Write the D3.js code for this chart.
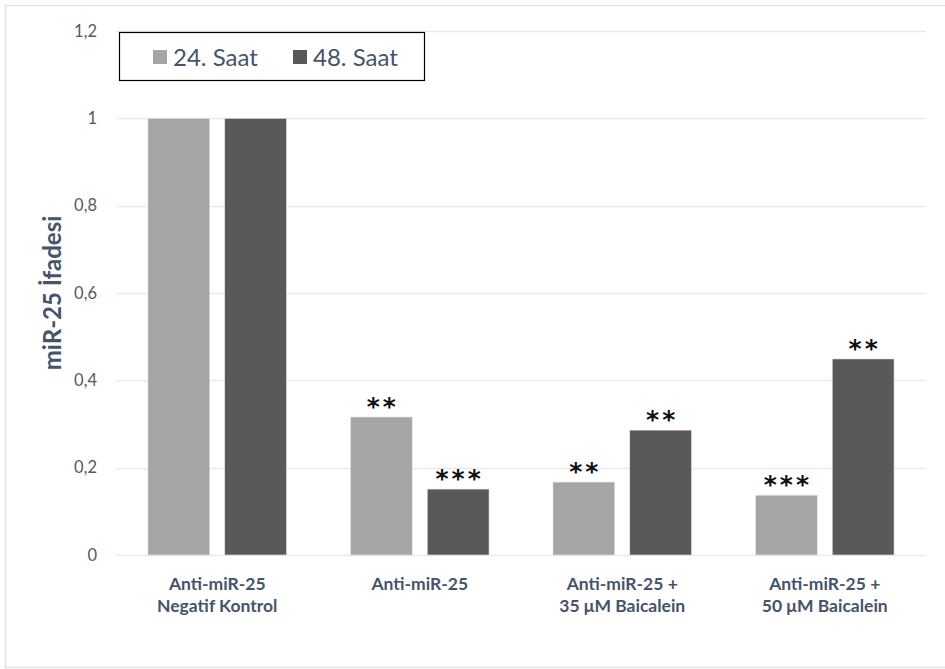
<!DOCTYPE html>
<html>
<head>
<meta charset="utf-8">
<script src="https://cdn.jsdelivr.net/npm/d3@7"></script>
<style>
  html, body { margin: 0; padding: 0; background: #fff; }
  svg { display: block; }
</style>
</head>
<body>
<svg id="chart" width="945" height="669"></svg>
<script>
// Groups on the x axis (each label split into lines)
const categories = [
  ["Anti-miR-25", "Negatif Kontrol"],
  ["Anti-miR-25"],
  ["Anti-miR-25 +", "35 μM Baicalein"],
  ["Anti-miR-25 +", "50 μM Baicalein"]
];
const seriesNames = ["24. Saat", "48. Saat"];
const values24 = [1.0, 0.316, 0.167, 0.137];
const values48 = [1.0, 0.151, 0.286, 0.449];
const stars24 = ["", "**", "**", "***"];
const stars48 = ["", "***", "**", "**"];
const yTicks = [0, 0.2, 0.4, 0.6, 0.8, 1, 1.2];
const yTitle = "miR-25 İfadesi";

const colors = ["#a5a5a5", "#595959"];
const textColor = "#44546a";
const font = "Lato, 'Open Sans', sans-serif";

const svg = d3.select("#chart");

// Outer frame
svg.append("rect")
  .attr("x", 5.5).attr("y", 5.5).attr("width", 945).attr("height", 662)
  .attr("fill", "none").attr("stroke", "#dfe3ec").attr("stroke-width", 1.5);

const plot = { left: 116, right: 926, top: 31, bottom: 555 };

const x = d3.scaleBand()
  .domain(d3.range(categories.length))
  .range([plot.left, plot.right])
  .paddingInner(0).paddingOuter(0);

const xSub = d3.scaleBand()
  .domain([0, 1])
  .range([0, x.bandwidth()])
  .paddingInner(0.195).paddingOuter(0.416);

const y = d3.scaleLinear().domain([0, 1.2]).range([plot.bottom, plot.top]);

// Gridlines
svg.append("g")
  .selectAll("line")
  .data(yTicks)
  .join("line")
  .attr("x1", plot.left).attr("x2", plot.right)
  .attr("y1", d => Math.round(y(d)) + 0.5).attr("y2", d => Math.round(y(d)) + 0.5)
  .attr("stroke", "#e6e9f0").attr("stroke-width", 1.5);

// Y axis tick labels
const fmt = d => d === 0 ? "0" : (d3.format("~g")(d)).replace(".", ",");
svg.append("g")
  .selectAll("text")
  .data(yTicks)
  .join("text")
  .attr("x", 97).attr("y", d => y(d))
  .attr("dy", "0.35em")
  .attr("text-anchor", "end")
  .attr("font-family", font)
  .attr("font-size", 16.5)
  .attr("fill", "#595959")
  .text(fmt);

// Y axis title
svg.append("text")
  .attr("transform", "translate(61,293) rotate(-90)")
  .attr("text-anchor", "middle")
  .attr("font-family", font)
  .attr("font-weight", "bold")
  .attr("font-size", 24)
  .attr("fill", textColor)
  .text(yTitle);

// Bars with significance marks
const series = [values24, values48];
const stars = [stars24, stars48];
series.forEach((vals, s) => {
  const g = svg.append("g");
  g.selectAll("rect")
    .data(vals)
    .join("rect")
    .attr("x", (d, i) => x(i) + xSub(s))
    .attr("width", xSub.bandwidth())
    .attr("y", d => y(d))
    .attr("height", d => y(0) - y(d))
    .attr("fill", colors[s])
    .attr("stroke", "#e8e8e8")
    .attr("stroke-width", 0.6);
  g.selectAll("text")
    .data(vals)
    .join("text")
    .attr("x", (d, i) => x(i) + xSub(s) + xSub.bandwidth() / 2 + 1.5)
    .attr("y", d => y(d) - 2)
    .attr("text-anchor", "middle")
    .attr("font-family", "'DejaVu Sans', sans-serif")
    .attr("font-weight", "bold")
    .attr("font-size", 25)
    .attr("letter-spacing", 3)
    .attr("fill", "#111")
    .text((d, i) => stars[s][i]);
});

// X axis category labels
const xl = svg.append("g");
categories.forEach((lines, i) => {
  const t = xl.append("text")
    .attr("x", x(i) + x.bandwidth() / 2)
    .attr("y", 590)
    .attr("text-anchor", "middle")
    .attr("font-family", font)
    .attr("font-weight", "bold")
    .attr("font-size", 17.5)
    .attr("fill", textColor);
  lines.forEach((ln, j) => {
    t.append("tspan")
      .attr("x", x(i) + x.bandwidth() / 2)
      .attr("dy", j === 0 ? 0 : 22)
      .text(ln);
  });
});

// Legend
const lg = svg.append("g");
lg.append("rect")
  .attr("x", 119.5).attr("y", 32.5).attr("width", 305).attr("height", 48)
  .attr("fill", "#fff").attr("stroke", "#000").attr("stroke-width", 1.2);
const legendX = [153, 293];
seriesNames.forEach((name, i) => {
  lg.append("rect")
    .attr("x", legendX[i]).attr("y", 50)
    .attr("width", 14).attr("height", 14)
    .attr("fill", colors[i]);
  lg.append("text")
    .attr("x", legendX[i] + 20).attr("y", 57)
    .attr("dy", "0.36em")
    .attr("font-family", font)
    .attr("font-size", 24)
    .attr("fill", textColor)
    .text(name);
});
</script>
</body>
</html>
